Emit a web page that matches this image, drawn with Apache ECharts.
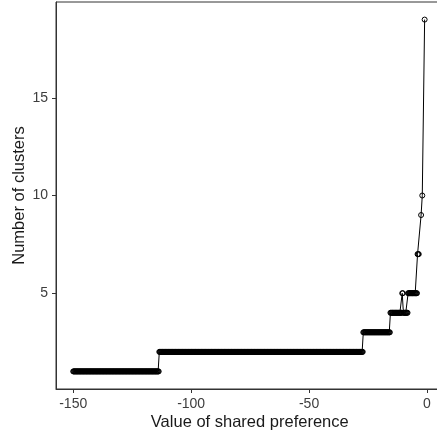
<!DOCTYPE html>
<html>
<head>
<meta charset="utf-8">
<script src="https://cdn.jsdelivr.net/npm/echarts@6/dist/echarts.min.js"></script>
<style>
  html, body { margin: 0; padding: 0; background: #fff; }
  #chart { width: 437px; height: 438px; }
</style>
</head>
<body>
<div id="chart"></div>
<script>
// Preference values were swept on a regular grid; each run below covers a
// stretch of that grid over which the number of clusters stayed the same.
const prefStep = 0.25;
const runStart    = [-150,   -113.5, -27,    -15.5,  -10.5,  -10,   -8,    -4];
const runEnd      = [-113.75, -27.25, -15.75, -10.75, -10.25, -8.25, -4.25, -3.5];
const runClusters = [1,       2,      3,      4,      5,      4,     5,     7];

// Last few preference values near zero.
const tailPref     = [-2.5, -2, -1];
const tailClusters = [9,    10,  19];

const xTicks = [-150, -100, -50, 0];
const yTicks = [5, 10, 15];

const points = [];
runStart.forEach((s, i) => {
  for (let p = s; p <= runEnd[i] + 1e-9; p += prefStep) {
    points.push([Math.round(p * 100) / 100, runClusters[i]]);
  }
});
tailPref.forEach((p, i) => points.push([p, tailClusters[i]]));

const FONT = 'Liberation Sans, Arial, sans-serif';

const chart = echarts.init(document.getElementById('chart'), null, { renderer: 'canvas' });
chart.setOption({
  animation: false,
  backgroundColor: '#ffffff',
  grid: {
    left: 56, right: -6.5, top: 2, bottom: 49,
    outerBoundsMode: 'none',
    containLabel: false,
    show: true, borderColor: '#333333', borderWidth: 1,
    backgroundColor: 'transparent'
  },
  xAxis: {
    type: 'value',
    min: -157.3, max: 7,
    name: 'Value of shared preference',
    nameLocation: 'middle',
    nameGap: 25,
    nameMoveOverlap: false,
    nameTextStyle: { fontFamily: FONT, fontSize: 16.5, color: '#1a1a1a' },
    splitLine: { show: false },
    axisLine: { show: true, onZero: false, lineStyle: { color: '#333', width: 1 } },
    axisTick: { show: true, length: 4, customValues: xTicks, lineStyle: { color: '#333' } },
    axisLabel: {
      customValues: xTicks, margin: 8,
      fontFamily: FONT, fontSize: 14, color: '#3d3d3d'
    }
  },
  yAxis: {
    type: 'value',
    min: 0.1, max: 19.9,
    name: 'Number of clusters',
    nameLocation: 'middle',
    nameGap: 28,
    nameRotate: 90,
    nameMoveOverlap: false,
    nameTextStyle: { fontFamily: FONT, fontSize: 16.5, color: '#1a1a1a' },
    splitLine: { show: false },
    axisLine: { show: true, onZero: false, lineStyle: { color: '#333', width: 1 } },
    axisTick: { show: true, length: 4, customValues: yTicks, lineStyle: { color: '#333' } },
    axisLabel: {
      customValues: yTicks, margin: 8,
      fontFamily: FONT, fontSize: 14, color: '#3d3d3d'
    }
  },
  series: [{
    type: 'line',
    data: points,
    showAllSymbol: true,
    symbol: 'circle',
    symbolSize: 5,
    itemStyle: { color: 'rgba(0,0,0,0)', borderColor: '#000', borderWidth: 1 },
    lineStyle: { color: '#000', width: 1 },
    emphasis: { disabled: true }
  }]
});
</script>
</body>
</html>
